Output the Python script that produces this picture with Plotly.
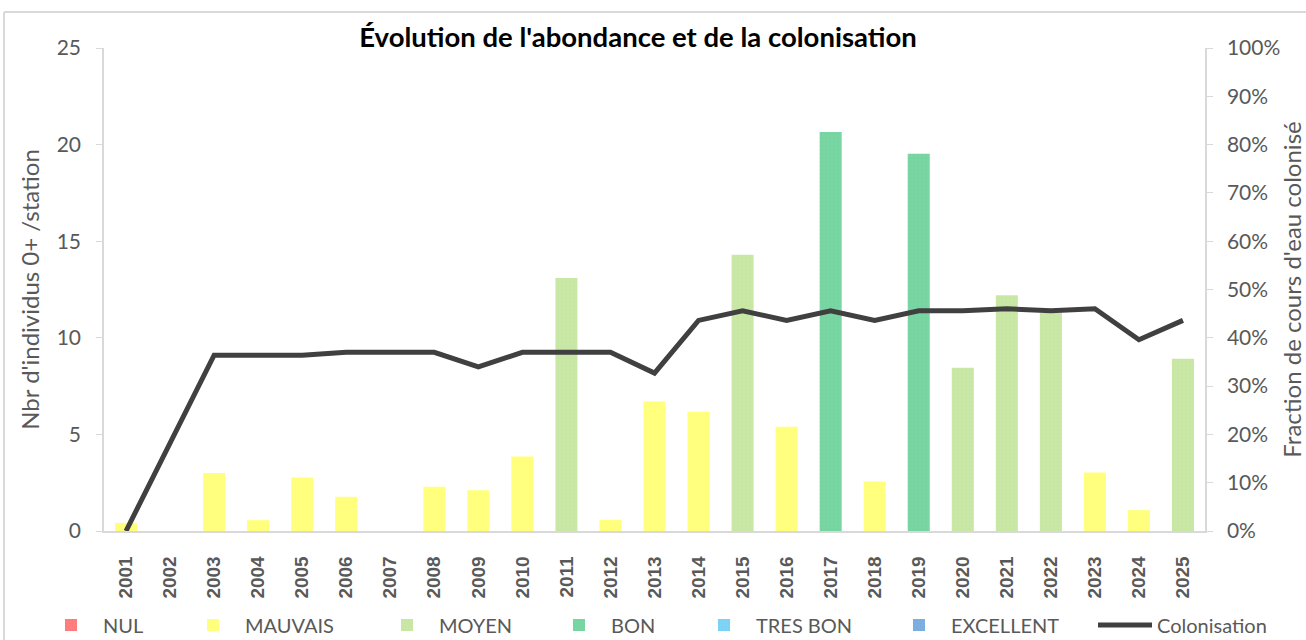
import plotly.graph_objects as go

years = [str(y) for y in range(2001, 2026)]
abundance = [0.42, None, 3.0, 0.56, 2.77, 1.77, None, 2.29, 2.11, 3.85,
             13.1, 0.58, 6.70, 6.17, 14.3, 5.39, 20.65, 2.56, 19.53, 8.45,
             12.2, 11.3, 3.03, 1.08, 8.92]
classes = ["MAUVAIS", None, "MAUVAIS", "MAUVAIS", "MAUVAIS", "MAUVAIS", None, "MAUVAIS", "MAUVAIS", "MAUVAIS",
           "MOYEN", "MAUVAIS", "MAUVAIS", "MAUVAIS", "MOYEN", "MAUVAIS", "BON", "MAUVAIS", "BON", "MOYEN",
           "MOYEN", "MOYEN", "MAUVAIS", "MAUVAIS", "MOYEN"]
colonisation = [0.0, 0.182, 0.364, 0.364, 0.364, 0.370, 0.370, 0.370, 0.340, 0.370,
                0.370, 0.370, 0.327, 0.436, 0.456, 0.436, 0.456, 0.436, 0.456, 0.456,
                0.460, 0.456, 0.460, 0.396, 0.436]

class_names = ["NUL", "MAUVAIS", "MOYEN", "BON", "TRES BON", "EXCELLENT"]
class_colors = ["#FF8080", "#FFFF80", "#C9E8A6", "#7AD6A4", "#80D4F6", "#7FB0E0"]
class_lines = ["#FF3030", "#FFFF40", "#B0DD88", "#40C080", "#30B8F0", "#3D8FD8"]

# legend text start (px) for each entry, last one is the line
legend_text_x = [104, 246, 440, 612, 757, 952, 1158]

GRAY = "#595959"
AX = "#D9D9D9"
W, H = 1306, 640

fig = go.Figure()
for i, (name, col, lc) in enumerate(zip(class_names, class_colors, class_lines)):
    vals = [v if c == name else None for v, c in zip(abundance, classes)]
    fig.add_trace(go.Bar(
        x=years, y=vals, name=name, width=0.5,
        legend="legend" if i == 0 else f"legend{i + 1}",
        marker=dict(color=col, line=dict(width=0),
                    pattern=dict(shape="+", size=4, solidity=0.15, fgcolor=lc, fgopacity=0.35)),
    ))

fig.add_trace(go.Scatter(
    x=years, y=colonisation, name="Colonisation", mode="lines", yaxis="y2",
    legend="legend7",
    line=dict(color="#404040", width=5),
))

legend_layout = {}
for i, tx in enumerate(legend_text_x):
    key = "legend" if i == 0 else f"legend{i + 1}"
    legend_layout[key] = dict(
        orientation="h", x=(tx - 65) / W, xref="container", xanchor="left",
        y=1 - 625 / H, yref="container", yanchor="middle",
        font=dict(size=20, color=GRAY), itemwidth=54,
        bgcolor="rgba(0,0,0,0)",
    )

fig.update_layout(
    width=W, height=H,
    margin=dict(l=104, r=101, t=48, b=109, autoexpand=False),
    paper_bgcolor="white", plot_bgcolor="white",
    barmode="overlay",
    font=dict(family="Lato", color=GRAY, size=18),
    title=dict(text="<b>Évolution de l'abondance et de la colonisation</b>",
               x=638 / W, xanchor="center", xref="container",
               y=1 - 37 / H, yanchor="middle", yref="container",
               font=dict(family="Lato", size=27.5, color="black")),
    xaxis=dict(type="category", showline=True, linecolor=AX, linewidth=1.5,
               ticks="", tickangle=-90, showgrid=False, automargin=False,
               tickfont=dict(family="Liberation Sans", size=19, color=GRAY, weight="bold"),
               ticklabelstandoff=16),
    yaxis=dict(range=[0, 25], dtick=5, showline=True, linecolor=AX, linewidth=1.5,
               ticks="outside", ticklen=6, tickcolor=AX, showgrid=False, zeroline=False,
               automargin=False,
               tickfont=dict(size=21, color=GRAY), ticklabelstandoff=11,
               title=dict(text="Nbr d'individus 0+ /station", font=dict(size=24, color=GRAY), standoff=10)),
    yaxis2=dict(range=[0, 1], dtick=0.1, tickformat=".0%", overlaying="y", side="right",
                showline=True, linecolor=AX, linewidth=1.5, ticks="outside", ticklen=6,
                tickcolor=AX, showgrid=False, zeroline=False, automargin=False,
                tickfont=dict(size=21, color=GRAY), ticklabelstandoff=10,
                title=dict(text="Fraction de cours d'eau colonisé", font=dict(size=24, color=GRAY), standoff=8)),
    showlegend=True,
    shapes=[
        dict(type="line", xref="paper", yref="paper",
             x0=(4 - 104) / 1101, x1=(1306 - 104) / 1101,
             y0=(531 - 12) / 483, y1=(531 - 12) / 483, line=dict(color=AX, width=2)),
        dict(type="line", xref="paper", yref="paper",
             x0=(4 - 104) / 1101, x1=(4 - 104) / 1101,
             y0=(531 - 12) / 483, y1=(531 - 640) / 483, line=dict(color=AX, width=2)),
    ],
    **legend_layout,
)

fig.write_html("out.html", config={"displayModeBar": False},
               post_script="document.body.style.margin='0';document.body.style.overflow='hidden';")
